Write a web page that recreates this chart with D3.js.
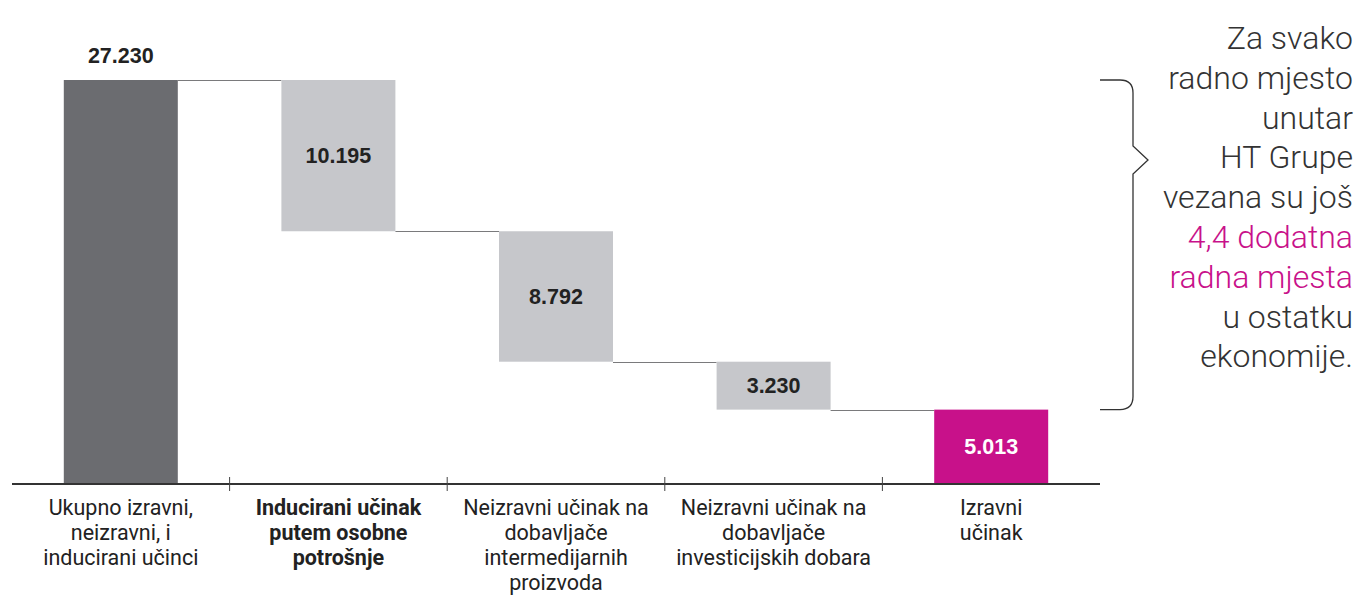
<!DOCTYPE html>
<html><head><meta charset="utf-8">
<script src="https://cdn.jsdelivr.net/npm/d3@7"></script>
<style>body{margin:0;background:#fff}svg{display:block}</style>
</head><body>
<svg id="c" width="1357" height="599"></svg>
<script>
const categories = [
  ["Ukupno izravni,", "neizravni, i", "inducirani učinci"],
  ["Inducirani učinak", "putem osobne", "potrošnje"],
  ["Neizravni učinak na", "dobavljače", "intermedijarnih", "proizvoda"],
  ["Neizravni učinak na", "dobavljače", "investicijskih dobara"],
  ["Izravni", "učinak"]
];
const values = [27230, 10195, 8792, 3230, 5013];
const valueLabels = ["27.230", "10.195", "8.792", "3.230", "5.013"];
const kinds = ["total", "step", "step", "step", "final"];
const noteLines = ["Za svako", "radno mjesto", "unutar", "HT Grupe", "vezana su još", "4,4 dodatna", "radna mjesta", "u ostatku", "ekonomije."];
const noteHighlight = [false, false, false, false, false, true, true, false, false];

(function () {
const colors = {total: "#6b6c70", step: "#c6c7cb", final: "#c8118a"};
const svg = d3.select("#c");
const catFont = "'Roboto',sans-serif";

const x = d3.scaleBand().domain(d3.range(values.length)).range([12, 1100]).paddingInner(0).paddingOuter(0);
const y = d3.scaleLinear().domain([0, 27230]).range([484, 80]);

let running = values[0];
const spans = values.map((v, i) => {
  if (i === 0) return [0, v];
  if (i === values.length - 1) return [0, v];
  const t = running; running -= v; return [running, t];
});

const barW = 114;
const bx = i => x(i) + x.bandwidth() / 2 - barW / 2;

for (let i = 0; i < values.length - 1; i++) {
  const level = i === 0 ? spans[0][1] : spans[i][0];
  svg.append("line").attr("x1", bx(i) + barW).attr("x2", bx(i + 1))
    .attr("y1", Math.round(y(level)) + 0.5).attr("y2", Math.round(y(level)) + 0.5)
    .attr("stroke", "#7a7a7c").attr("stroke-width", 1.2);
}

svg.selectAll("rect.bar").data(values).join("rect").attr("class", "bar")
  .attr("x", (d, i) => bx(i)).attr("width", barW)
  .attr("y", (d, i) => y(spans[i][1])).attr("height", (d, i) => y(spans[i][0]) - y(spans[i][1]))
  .attr("fill", (d, i) => colors[kinds[i]]);

svg.selectAll("text.val").data(values).join("text").attr("class", "val")
  .attr("x", (d, i) => bx(i) + barW / 2)
  .attr("y", (d, i) => i === 0 ? y(spans[0][1]) - 17 : (y(spans[i][0]) + y(spans[i][1])) / 2 + 7.5)
  .attr("text-anchor", "middle")
  .attr("font-family", "'Liberation Sans',Arial,sans-serif").attr("font-weight", "bold").attr("font-size", 21.5)
  .attr("fill", (d, i) => kinds[i] === "final" ? "#fff" : "#222")
  .text((d, i) => valueLabels[i]);

const axisG = svg.append("g").attr("transform", "translate(0,484)");
axisG.append("line").attr("x1", 12).attr("x2", 1100).attr("y1", 0).attr("y2", 0).attr("stroke", "#333").attr("stroke-width", 2.2);
const bounds = d3.range(1, values.length).map(i => x(i));
axisG.selectAll("line.tk").data(bounds).join("line").attr("class", "tk")
  .attr("x1", d => d).attr("x2", d => d).attr("y1", -7).attr("y2", 7).attr("stroke", "#444").attr("stroke-width", 1);

categories.forEach((lines, i) => {
  const t = svg.append("text").attr("x", x(i) + x.bandwidth() / 2).attr("y", 515)
    .attr("text-anchor", "middle").attr("font-family", catFont).attr("font-size", 21.5)
    .attr("font-weight", i === 1 ? 700 : 400).attr("fill", "#222");
  lines.forEach((l, j) => t.append("tspan").attr("x", x(i) + x.bandwidth() / 2).attr("dy", j === 0 ? 0 : 25).text(l));
});

const bTop = y(spans[0][1]), bBot = y(spans[3][0]), mid = 160;
const bp = d3.path();
bp.moveTo(1100, bTop);
bp.lineTo(1120, bTop);
bp.quadraticCurveTo(1133, bTop, 1133, bTop + 13);
bp.lineTo(1133, mid - 14);
bp.lineTo(1148, mid);
bp.lineTo(1133, mid + 14);
bp.lineTo(1133, bBot - 13);
bp.quadraticCurveTo(1133, bBot, 1120, bBot);
bp.lineTo(1100, bBot);
svg.append("path").attr("d", bp.toString()).attr("fill", "none").attr("stroke", "#333").attr("stroke-width", 1.3);

svg.selectAll("text.note").data(noteLines).join("text").attr("class", "note")
  .attr("x", 1353).attr("y", (d, i) => 49 + i * 39.8)
  .attr("text-anchor", "end").attr("font-family", "'Roboto',sans-serif").attr("font-weight", 300)
  .attr("font-size", 32).attr("fill", (d, i) => noteHighlight[i] ? "#c8118a" : "#333")
  .text(d => d);
})();
</script>
</body></html>
